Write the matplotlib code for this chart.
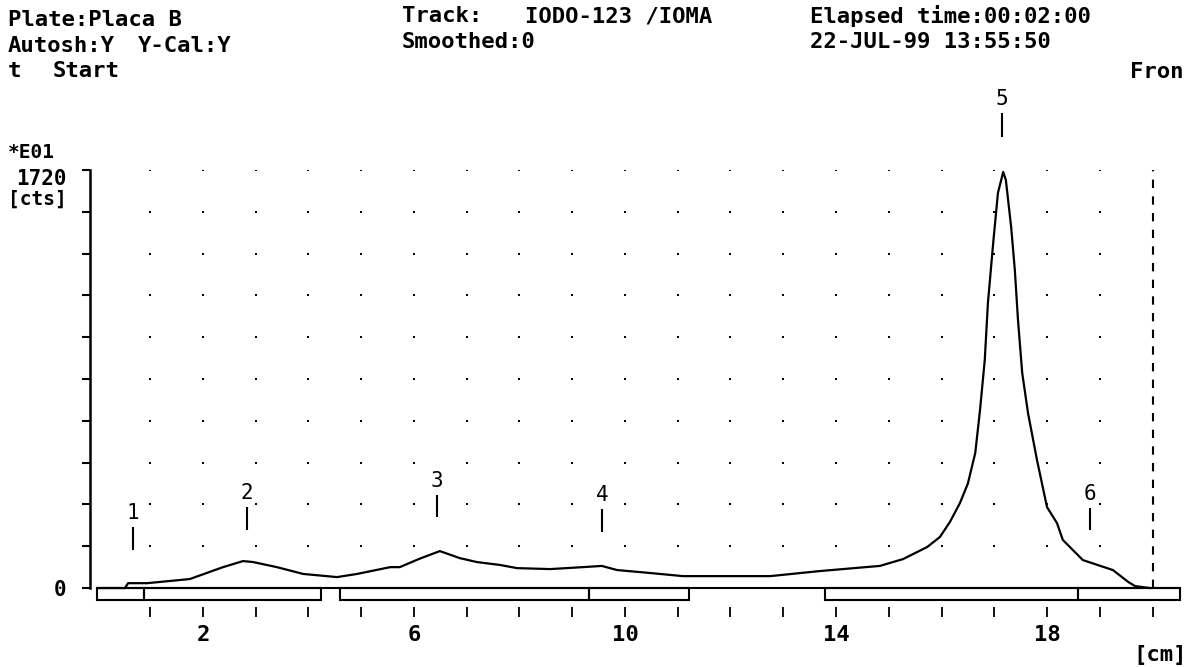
"""
TLC radiochromatogram scan (IODO-123 / IOMA), redrawn in the old plotter style.
"""

import matplotlib
matplotlib.use("Agg")
import matplotlib.pyplot as plt
import matplotlib.transforms as mtransforms
from matplotlib.patches import Rectangle
import numpy as np

W, H = 1188, 667
INK = "#000000"
FONT = "DejaVu Sans Mono"

# scan trace: position on plate [cm] vs counts [*E01 cts]
pos_cm = [0.00, 0.52, 0.58, 0.94, 1.75, 2.38, 2.76, 2.95, 3.40, 3.90,
          4.54, 4.92, 5.55, 5.73, 6.11, 6.49, 6.87, 7.19, 7.63, 7.95,
          8.58, 9.20, 9.56, 9.85, 10.47, 11.10, 11.99, 12.75, 13.70, 14.83,
          15.27, 15.73, 15.97, 16.16, 16.35, 16.50, 16.64, 16.73, 16.82, 16.88,
          16.98, 17.07, 17.17, 17.22, 17.32, 17.39, 17.45, 17.53, 17.64, 17.81,
          18.00, 18.19, 18.30, 18.68, 19.25, 19.54, 19.67, 19.95]
counts = [0, 0, 20, 20, 37, 86, 111, 107, 86, 58,
          45, 58, 86, 86, 121, 152, 123, 107, 95, 82,
          78, 86, 91, 74, 62, 49, 49, 49, 70, 91,
          119, 169, 210, 272, 350, 430, 556, 732, 938, 1173,
          1420, 1626, 1712, 1679, 1486, 1309, 1103, 885, 720, 527,
          333, 267, 198, 115, 74, 25, 8, 0]

# detected peaks: id, position [cm], marker bar extent [cts]
peak_ids = ["1", "2", "3", "4", "5", "6"]
peak_pos = [0.67, 2.83, 6.44, 9.56, 17.15, 18.82]
mark_lo = [156, 239, 292, 230, 1856, 239]
mark_hi = [251, 333, 383, 325, 1955, 329]

# integration regions [cm]
region_start = [0.00, 0.88, 4.60, 9.32, 13.79, 18.59]
region_end = [0.88, 4.24, 9.32, 11.21, 18.59, 20.52]

y_max = 1720
y_ticks = np.linspace(0, y_max, 11)
x_ticks = np.arange(1, 21)
x_labeled = [2, 6, 10, 14, 18]
front_cm = 20.0


def px(x, y):
    return x / W, 1 - y / H


fig = plt.figure(figsize=(W / 100, H / 100), dpi=100)
fig.patch.set_facecolor("white")
ax = fig.add_axes([90 / W, (H - 607) / H, 1095 / W, (607 - 170) / H])
ax.set_xlim(-0.142, 20.616)
ax.set_ylim(-78, y_max)

# dotted grid
gx, gy = np.meshgrid(x_ticks[:-1], y_ticks[1:])
ax.scatter(gx.ravel(), gy.ravel(), s=3, color=INK, marker="s", linewidths=0)

# trace
ax.plot(pos_cm, counts, color=INK, linewidth=1.6, solid_joinstyle="round")

# baseline + integration boxes
ax.hlines(0, region_start[0], region_end[-1], color=INK, linewidth=1.5)
for a, b in zip(region_start, region_end):
    ax.add_patch(Rectangle((a, -49), b - a, 49, fill=False,
                           edgecolor=INK, linewidth=1.5))

# solvent front
ax.vlines(front_cm, 0, y_max, color=INK, linewidth=1.5,
          linestyles=(0, (4, 4)))

# peak markers
for pid, x, lo, hi in zip(peak_ids, peak_pos, mark_lo, mark_hi):
    ax.vlines(x, lo, hi, color=INK, linewidth=1.5, clip_on=False)
    ax.annotate(pid, (x, hi), xytext=(0, 3), textcoords="offset points",
                ha="center", va="bottom", fontsize=15, family=FONT,
                annotation_clip=False)

# axes styling
for side in ("top", "right", "bottom"):
    ax.spines[side].set_visible(False)
ax.spines["left"].set_bounds(0, y_max)
ax.spines["left"].set_linewidth(1.8)

ax.set_yticks(y_ticks)
ax.set_yticklabels(["0"] + [""] * 9 + [str(y_max)])
ax.tick_params(axis="y", direction="out", length=6, width=1.5,
               pad=11, labelsize=15)
ax.set_xticks(x_ticks)
ax.set_xticklabels([str(t) if t in x_labeled else "" for t in x_ticks])
ax.tick_params(axis="x", direction="out", length=7, width=1.3,
               pad=6, labelsize=16)
for lab in ax.get_xticklabels() + ax.get_yticklabels():
    lab.set_family(FONT)
    lab.set_fontweight("bold")

# the top count label sits a little below its tick, as on the plotter
top_lab = ax.get_yticklabels()[-1]
top_lab.set_transform(top_lab.get_transform() + mtransforms.ScaledTranslation(
    0, -5 / 72, fig.dpi_scale_trans))

# header and axis annotations
kw = dict(fontsize=16, family=FONT, fontweight="bold", color=INK)
fig.text(*px(8, 20), "Plate:Placa B", va="center", **kw)
fig.text(*px(8, 46), "Autosh:Y", va="center", **kw)
fig.text(*px(138, 46), "Y-Cal:Y", va="center", **kw)
fig.text(*px(8, 71), "t", va="center", **kw)
fig.text(*px(53, 71), "Start", va="center", **kw)
fig.text(*px(402, 16), "Track:", va="center", **kw)
fig.text(*px(525, 16), "IODO-123 /IOMA", va="center", **kw)
fig.text(*px(402, 42), "Smoothed:0", va="center", **kw)
fig.text(*px(810, 16), "Elapsed time:00:02:00", va="center", **kw)
fig.text(*px(810, 42), "22-JUL-99 13:55:50", va="center", **kw)
fig.text(*px(1183, 72), "Fron", va="center", ha="right", **kw)
fig.text(*px(1160, 655), "[cm]", va="center", ha="center", **kw)

kw_small = dict(kw, fontsize=14)
fig.text(*px(8, 152), "*E01", va="center", **kw_small)
fig.text(*px(8, 190), "[cts]", va="top", **kw_small)

fig.savefig("out.png", dpi=100, facecolor="white")
plt.close(fig)
